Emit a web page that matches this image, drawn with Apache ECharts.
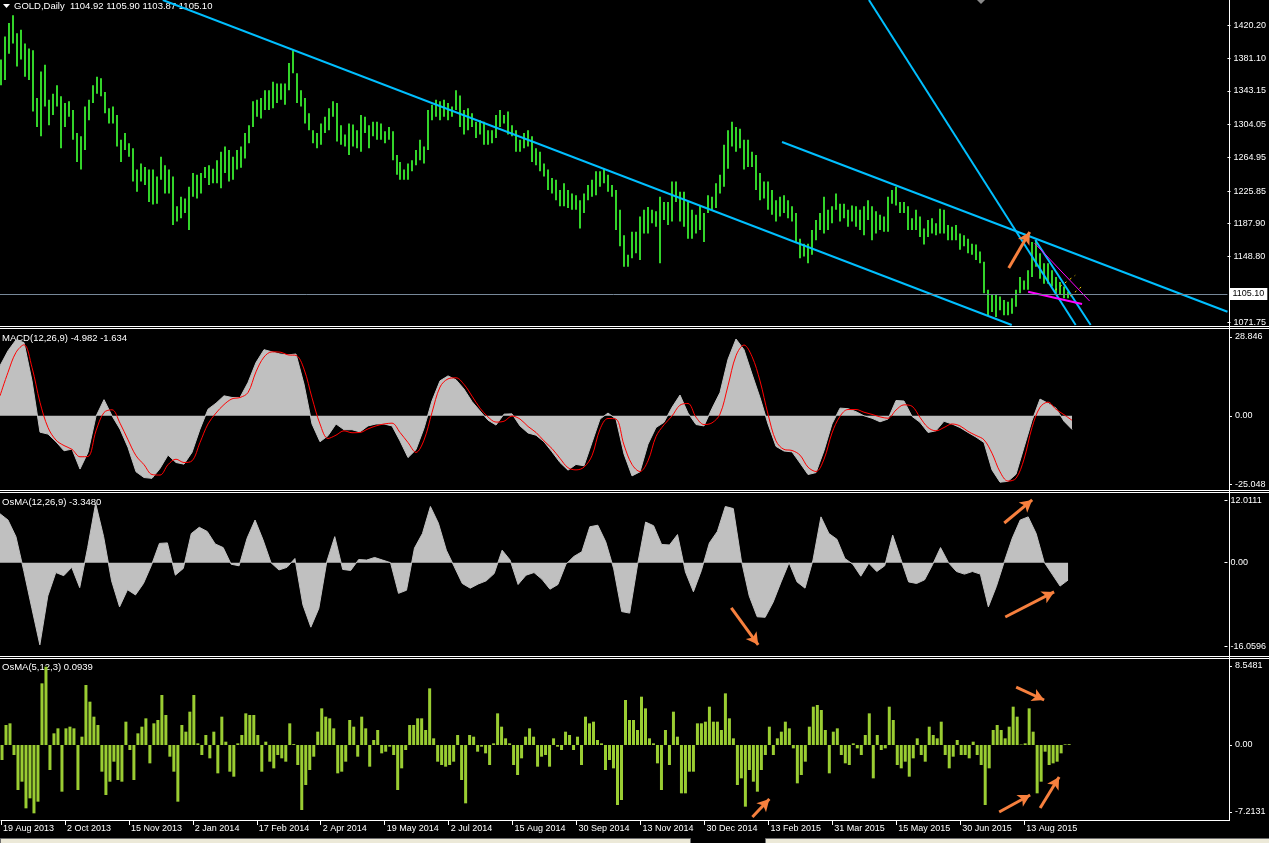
<!DOCTYPE html>
<html><head><meta charset="utf-8">
<script src="https://cdn.jsdelivr.net/npm/echarts@6/dist/echarts.min.js"></script>
<style>html,body{margin:0;padding:0;background:#000;overflow:hidden}#c{width:1269px;height:843px}</style>
</head><body><div id="c"></div>
<script>
// ---------------- DATA ----------------
const symbolName = 'GOLD,Daily';
const lastOHLC = ['1104.92', '1105.90', '1103.87', '1105.10'];
const bidPrice = 1105.10;
const macdTitleValues = ['-4.982', '-1.634'];
const osma1TitleValue = '-3.3480';
const osma2TitleValue = '0.0939';

const dateLabels = ['19 Aug 2013','2 Oct 2013','15 Nov 2013','2 Jan 2014','17 Feb 2014','2 Apr 2014','19 May 2014','2 Jul 2014','15 Aug 2014','30 Sep 2014','13 Nov 2014','30 Dec 2014','13 Feb 2015','31 Mar 2015','15 May 2015','30 Jun 2015','13 Aug 2015'];
const dateTickBars = [0,32,64,96,128,160,192,224,256,288,320,352,384,416,448,480,512];

const priceTickLabels = ['1420.20','1381.10','1343.15','1304.05','1264.95','1225.85','1187.90','1148.80','1071.75'];
const macdTickLabels = ['28.846','0.00','-25.048'];
const osma1TickLabels = ['12.0111','0.00','-16.0596'];
const osma2TickLabels = ['8.5481','0.00','-7.2131'];

// price: high / low of each pair of daily bars
const priceHigh = [1380,1407,1423,1432,1411,1415,1399,1393,1391,1335,
1366,1374,1333,1340,1350,1337,1329,1331,1321,1294,
1290,1325,1333,1350,1360,1358,1342,1323,1325,1315,
1286,1294,1282,1276,1251,1258,1254,1251,1251,1243,
1266,1256,1251,1243,1208,1219,1217,1231,1247,1245,
1247,1254,1256,1252,1262,1272,1278,1274,1266,1274,
1278,1294,1303,1331,1333,1335,1344,1344,1354,1352,
1352,1352,1376,1391,1364,1344,1335,1317,1297,1294,
1305,1313,1323,1331,1329,1303,1292,1305,1304,1297,
1315,1313,1303,1307,1307,1305,1296,1301,1296,1268,
1260,1251,1258,1262,1274,1286,1278,1321,1327,1333,
1331,1333,1329,1325,1344,1338,1321,1323,1317,1307,
1309,1307,1297,1297,1315,1321,1315,1319,1303,1297,
1286,1294,1297,1290,1276,1272,1258,1251,1241,1239,
1227,1235,1227,1223,1221,1215,1223,1233,1239,1249,
1249,1252,1245,1233,1227,1204,1174,1151,
1178,1178,1196,1204,1207,1204,1202,1219,1213,1213,
1237,1237,1225,1225,1213,1204,1198,1209,1200,1221,
1219,1235,1245,1280,1297,1307,1301,1299,1286,1286,
1272,1268,1247,1237,1237,1227,1215,1219,1221,1215,
1208,1200,1170,1164,1164,1180,1192,1200,1219,1204,
1208,1223,1211,1211,1204,1209,1208,1204,1208,1215,
1208,1202,1198,1196,1219,1227,1231,1213,1213,1208,
1194,1204,1196,1182,1192,1194,1188,
1205,1204,1186,1184,1186,1176,1174,1170,1164,1163,
1155,1143,1110,1104,1104,1102,1098,1096,1100,1110,
1125,1121,1133,1166,1168,1153,1141,1141,1133,1125,
1119,1114,1108];
const priceLow = [1350,1356,1387,1399,1372,1380,1360,1356,1319,1301,
1290,1325,1303,1315,1325,1276,1301,1313,1286,1260,
1251,1274,1309,1329,1340,1337,1317,1305,1305,1278,
1260,1274,1266,1237,1225,1237,1233,1213,1210,1211,
1239,1223,1223,1186,1190,1194,1200,1180,1219,1217,
1223,1241,1233,1235,1235,1229,1247,1237,1239,1251,
1253,1264,1282,1301,1313,1311,1321,1321,1323,1329,
1333,1327,1344,1364,1329,1325,1305,1297,1282,1276,
1280,1294,1297,1313,1284,1280,1278,1268,1278,1276,
1272,1294,1276,1290,1286,1286,1282,1286,1262,1245,
1239,1239,1239,1249,1256,1262,1258,1274,1309,1313,
1309,1313,1309,1313,1321,1301,1292,1297,1301,1288,
1292,1280,1280,1282,1288,1301,1305,1292,1290,1272,
1272,1276,1278,1260,1256,1249,1243,1227,1223,1215,
1208,1208,1206,1204,1204,1182,1200,1215,1219,1221,
1231,1235,1225,1219,1180,1161,1137,1137,
1147,1153,1145,1176,1176,1188,1184,1141,1192,1186,
1190,1213,1190,1184,1170,1170,1176,1180,1166,1200,
1204,1206,1223,1231,1252,1278,1272,1276,1251,1254,
1254,1227,1215,1217,1204,1198,1190,1196,1200,1194,
1190,1165,1147,1149,1141,1151,1168,1180,1176,1180,
1188,1204,1190,1194,1184,1190,1184,1180,1174,1192,
1168,1176,1180,1178,1178,1211,1209,1200,1200,1180,
1180,1180,1172,1163,1172,1176,1174,
1176,1176,1168,1168,1168,1157,1161,1153,1151,1145,
1141,1106,1080,1084,1078,1086,1080,1080,1082,1090,
1106,1110,1110,1125,1137,1123,1117,1117,1114,1106,
1104,1100,1100];

// MACD(12,26,9) main (histogram) and signal, every 4th bar
const macdMain = [18.3,23.8,27.8,26.8,12.8,-6.0,-6.7,-9.5,-12.8,-12.2,
-19.5,-13.4,-0.2,5.9,0.0,-4.9,-11.6,-20.5,-22.6,-22.9,
-19.3,-14.4,-17.1,-17.7,-13.4,-4.9,2.4,4.6,7.3,6.7,
6.7,12.2,19.5,24.2,23.4,22.6,22.3,22.6,11.6,-3.0,
-9.5,-7.3,-3.0,-5.1,-5.1,-5.9,-3.7,-3.0,-3.0,-3.7,
-9.2,-15.3,-12.4,-4.6,5.5,12.8,14.6,13.2,9.8,5.2,
1.8,-1.6,-3.4,0.6,0.7,-3.7,-6.3,-7.1,-9.5,-13.2,
-17.1,-19.9,-17.8,-18.3,-9.8,-1.2,1.0,-1.2,-14.0,-22.0,
-20.5,-10.4,-4.3,-2.4,3.1,7.6,1.0,-3.2,-3.7,2.7,
8.5,20.7,28.1,24.2,15.3,6.7,-3.0,-11.2,-12.9,-13.2,
-17.3,-21.5,-20.8,-12.8,-3.0,2.8,2.6,1.5,0.0,-0.9,
-2.2,-1.2,5.6,5.4,-0.2,-2.4,-6.1,-5.5,-2.0,-3.0,
-4.3,-6.1,-7.8,-9.8,-19.8,-24.3,-24.0,-21.4,-11.6,-1.8,
6.1,4.6,2.8,-2.0,-4.98];
const macdSignal = [7.3,15.9,23.2,26.0,17.7,4.9,-4.3,-8.9,-10.9,-12.3,
-15.0,-14.9,-5.5,1.2,2.2,-2.7,-8.8,-14.6,-17.9,-21.5,
-21.7,-17.9,-15.9,-17.1,-16.5,-9.8,-3.0,1.0,4.1,6.2,
6.7,8.5,16.1,21.5,23.4,23.3,22.3,22.1,17.1,6.6,
-3.0,-8.3,-7.1,-5.5,-6.2,-6.1,-4.8,-3.7,-3.0,-2.7,
-6.1,-9.8,-13.4,-8.9,1.2,10.5,13.5,13.9,11.5,7.2,
2.8,-0.4,-2.3,-2.0,-0.1,-1.2,-3.9,-6.1,-9.2,-12.0,
-15.6,-19.0,-19.8,-18.8,-14.6,-4.9,-1.0,-1.2,-10.7,-17.8,
-20.4,-16.5,-7.6,-3.3,-0.1,3.9,4.5,-0.5,-3.2,-2.6,
0.6,11.0,22.0,25.9,21.7,12.8,0.6,-9.2,-12.3,-12.7,
-14.4,-18.8,-20.4,-15.9,-6.3,-0.2,2.3,2.3,1.3,0.5,
-0.4,-0.9,2.1,4.0,3.5,-0.6,-4.3,-5.5,-4.3,-3.0,
-3.7,-5.7,-7.2,-8.8,-13.7,-20.5,-23.9,-22.9,-15.9,-4.3,
3.1,5.0,2.4,0.4,-1.63];
// OsMA(12,26,9), every 4th bar
const osma1 = [9.4,8.2,5.0,-1.7,-8.8,-15.8,-6.4,-1.9,-2.5,-0.9,
-4.8,2.9,11.4,5.0,-3.5,-8.5,-5.2,-6.2,-4.0,-0.5,
3.7,3.8,-2.4,-1.1,5.6,6.8,6.0,3.6,2.9,-0.3,
-0.6,4.7,8.2,4.4,0.0,-1.4,-0.9,0.8,-8.1,-12.4,
-8.8,0.2,5.0,-1.3,-1.5,0.6,0.5,1.0,0.5,0.0,
-5.9,-5.3,2.8,5.6,10.8,7.6,2.4,-0.8,-4.0,-4.9,
-4.1,-3.5,-2.1,2.4,0.5,-4.2,-2.4,-1.9,-3.2,-5.1,
-4.2,-0.3,1.2,2.1,6.9,7.2,4.0,-1.2,-9.4,-9.7,
-0.3,7.8,7.1,3.5,3.4,5.4,-1.8,-5.6,-1.5,3.8,
6.0,10.8,10.4,0.5,-6.4,-10.4,-10.5,-7.6,-3.7,0.0,
-3.7,-4.9,0.5,8.8,5.6,4.5,0.8,-0.3,-2.6,-0.1,
-1.7,-0.6,5.3,0.8,-3.7,-4.0,-3.3,-0.4,2.9,0.0,
-1.7,-2.2,-1.7,-2.2,-8.5,-4.6,0.2,4.7,8.2,8.8,
5.6,0.1,-2.2,-4.5,-3.35];
// OsMA(5,12,3), each pair of daily bars
const osma2 = [-1.62,2.16,2.34,-1.08,-4.86,-3.96,-6.84,-5.76,-7.38,-6.12,
6.66,8.46,-2.7,1.26,1.8,-5.04,1.8,1.98,1.8,-4.86,
0.9,6.48,4.68,3.06,2.16,-2.88,-5.4,-3.96,-1.8,-3.78,
-3.96,2.52,-0.54,-3.78,1.26,1.98,2.88,-1.98,2.34,2.7,
5.4,3.24,-1.26,-2.88,-6.12,2.16,1.44,3.6,5.4,0.18,
-1.08,1.08,-1.44,1.44,-3.06,3.06,0.36,-2.88,-3.42,0.18,
1.08,3.42,3.24,3.24,1.08,-2.88,0.36,-1.8,-2.52,-1.08,
-1.44,-1.8,2.34,0.1,-2.16,-7.02,-4.32,-2.7,-1.26,1.44,
3.96,3.06,2.88,1.8,-3.06,-2.88,-1.8,2.7,1.98,-1.26,
3.06,1.8,-2.34,0.54,1.62,-0.9,-0.72,-0.18,-1.08,-4.86,
-2.52,-0.54,2.16,2.16,2.88,2.88,1.62,6.12,0.72,-1.8,
-2.16,-2.34,-2.16,-1.8,1.08,-3.78,-6.3,1.08,0.9,-0.72,
-0.18,-0.9,-2.16,0.18,3.42,1.98,0.72,0.18,-2.16,-3.24,
-1.44,0.9,1.8,0.9,-2.34,-1.26,-1.08,-2.34,0.72,-0.18,
-0.54,1.44,1.08,-0.54,0.9,-2.16,3.06,2.34,2.52,0.54,
0.18,-2.7,-1.62,-2.52,-6.48,-5.94,4.86,2.7,2.7,1.62,
5.22,3.96,0.72,0.18,-1.98,-4.86,1.62,-2.16,3.6,0.9,
-5.22,-5.22,-2.88,-2.88,2.34,2.34,2.52,4.14,2.52,2.52,
1.62,5.58,2.88,0.72,-4.32,-3.6,-6.66,-2.7,-3.96,-5.04,
-2.7,-1.08,1.98,-1.08,0.72,1.44,2.52,1.8,-0.36,-4.14,
-3.24,-1.8,1.98,4.14,4.32,3.78,1.62,-3.06,1.44,1.8,
-1.08,-1.98,-2.16,0.18,-0.36,-1.08,1.08,3.42,-3.6,1.08,
-0.54,-0.36,4.14,2.7,-2.16,-2.52,-1.8,-3.42,-1.44,0.72,
-1.08,-1.8,1.98,1.08,0.72,2.52,-1.08,-2.52,-1.26,0.54,
-1.08,-1.08,-1.44,0.36,-1.08,-2.16,-6.48,-2.52,1.62,2.16,
1.62,0.72,1.98,4.14,3.06,0.05,0.18,3.96,1.44,-5.22,
-3.96,-0.72,-2.16,-1.98,-1.8,-0.9,0.07,0.09];

// drawn objects, in (bar, value) coordinates
const blueLines = [[[81.5,1449.9],[506.5,1068.7]], [[391.5,1283.3],[614.5,1084.3]], [[435,1449.9],[538.5,1068.7]], [[518.3,1168.4],[546,1068.7]]];
const magentaThick = [[514.7,1107.7],[541.7,1093.3]];
const magentaThin = [[518,1164.5],[545.5,1096.8]];
const yellowLines = [[[528.3,1109.7],[538.3,1127.0]], [[535.8,1102.7],[542.5,1115.6]]];
const priceArrows = [[[505,1135.5],[515.5,1177.8]]];
const osma1Arrows = [[[504,7.63],[518,12.06]], [[504.5,-10.44],[529,-5.63]], [[367,-8.7],[380.5,-15.8]]];
const osma2Arrows = [[[508,6.26],[522,4.86]], [[376,-7.78],[384.5,-5.83]], [[499.5,-7.24],[515,-5.4]], [[520,-6.8],[529.5,-3.46]]];

// ---------------- CHART ----------------
const FONT = "'Liberation Sans', Arial, sans-serif";
const ORANGE = '#F7803E';
const chart = echarts.init(document.getElementById('c'), null, {renderer: 'canvas', width: 1269, height: 843});

const grids = [
  {left: 0, top: 0, width: 1229, height: 325},
  {left: 0, top: 330, width: 1229, height: 159},
  {left: 0, top: 494, width: 1229, height: 161},
  {left: 0, top: 659, width: 1229, height: 161}
];
const X_MAX = 614.5;

function xAx(i) {
  const base = {type: 'value', gridIndex: i, min: 0, max: X_MAX, splitLine: {show: false}};
  if (i < 3) return Object.assign(base, {show: false});
  return Object.assign(base, {
    axisLine: {show: true, onZero: false, lineStyle: {color: '#fff', width: 1}},
    axisTick: {show: true, customValues: dateTickBars, length: 5, lineStyle: {color: '#fff'}},
    axisLabel: {show: true, customValues: dateTickBars, hideOverlap: false,
      formatter: v => { const k = dateTickBars.indexOf(v); return k >= 0 ? dateLabels[k] : ''; },
      color: '#fff', fontSize: 9, fontFamily: FONT, align: 'left', margin: 4, padding: [0, 0, 0, 2]}
  });
}
function yAx(i, min, max, labels) {
  const vals = labels.map(Number);
  return {
    type: 'value', gridIndex: i, position: 'right', min: min, max: max,
    axisLine: {show: false, onZero: false},
    splitLine: {show: false},
    axisTick: {show: true, customValues: vals, length: 3, lineStyle: {color: '#fff'}},
    axisLabel: {show: true, customValues: vals, hideOverlap: false,
      formatter: v => { const k = vals.indexOf(v); return k >= 0 ? labels[k] : ''; },
      color: '#fff', fontSize: 9, fontFamily: FONT, margin: 6}
  };
}

const priceData = priceHigh.map((h, k) => [2 * k + 0.5, h, priceLow[k]]);
const seg = (a) => [{coord: a[0]}, {coord: a[1]}];

const series = [];
series.push({
  type: 'custom', xAxisIndex: 0, yAxisIndex: 0, data: priceData, clip: true, silent: true,
  encode: {x: 0, y: [1, 2]},
  renderItem: function (params, api) {
    const x = api.value(0);
    const p1 = api.coord([x, api.value(1)]);
    const p2 = api.coord([x, api.value(2)]);
    return {type: 'rect', shape: {x: Math.round(p1[0]) - 1, y: p1[1], width: 2, height: Math.max(1, p2[1] - p1[1])},
      style: {fill: '#33D42A'}};
  }
});
blueLines.forEach((ln, idx) => {
  const s = {type: 'line', xAxisIndex: 0, yAxisIndex: 0, data: ln, symbol: 'none', silent: true, clip: true,
    lineStyle: {color: '#00BFFF', width: 2}, z: 3};
  if (idx === 0) {
    s.markLine = {silent: true, symbol: ['none', 'none'], animation: false,
      lineStyle: {color: '#778899', width: 1, type: 'solid'},
      label: {show: true, position: 'end', formatter: bidPrice.toFixed(2), color: '#000', backgroundColor: '#fff',
        padding: [2, 3, 1, 3], fontSize: 9, fontFamily: FONT, distance: 2},
      data: [{yAxis: bidPrice}]};
  }
  if (idx === 1) {
    s.markLine = {silent: true, symbol: ['none', 'arrow'], symbolSize: [10, 12], animation: false,
      label: {show: false}, lineStyle: {color: ORANGE, width: 3, type: 'solid'},
      data: priceArrows.map(seg)};
  }
  series.push(s);
});
series.push({type: 'line', xAxisIndex: 0, yAxisIndex: 0, data: magentaThick, symbol: 'none', silent: true,
  lineStyle: {color: '#FF00FF', width: 2}, z: 4});
series.push({type: 'line', xAxisIndex: 0, yAxisIndex: 0, data: magentaThin, symbol: 'none', silent: true,
  lineStyle: {color: '#FF00FF', width: 1}, z: 4});
yellowLines.forEach(ln => series.push({type: 'line', xAxisIndex: 0, yAxisIndex: 0, data: ln, symbol: 'none', silent: true,
  lineStyle: {color: '#FFD800', width: 1, type: [2, 4]}, z: 4}));

// MACD
series.push({type: 'line', xAxisIndex: 1, yAxisIndex: 1, data: macdMain.map((v, j) => [4 * j, v]),
  symbol: 'none', silent: true, lineStyle: {color: '#C0C0C0', width: 1},
  areaStyle: {color: '#C0C0C0', opacity: 1}});
series.push({type: 'line', xAxisIndex: 1, yAxisIndex: 1, data: macdSignal.map((v, j) => [4 * j, v]),
  symbol: 'none', silent: true, smooth: 0.35, lineStyle: {color: '#FF0000', width: 1}, z: 3});
// OsMA 12,26,9
series.push({type: 'line', xAxisIndex: 2, yAxisIndex: 2, data: osma1.map((v, j) => [4 * j, v]),
  symbol: 'none', silent: true, lineStyle: {color: '#C0C0C0', width: 1},
  areaStyle: {color: '#C0C0C0', opacity: 1},
  markLine: {silent: true, symbol: ['none', 'arrow'], symbolSize: [10, 12], animation: false,
    label: {show: false}, lineStyle: {color: ORANGE, width: 3, type: 'solid'}, data: osma1Arrows.map(seg)}});
// OsMA 5,12,3
series.push({type: 'bar', xAxisIndex: 3, yAxisIndex: 3, data: osma2.map((v, k) => [2 * k + 0.5, v]),
  barWidth: 3, silent: true, itemStyle: {color: '#9ACD32'},
  markLine: {silent: true, symbol: ['none', 'arrow'], symbolSize: [10, 12], animation: false,
    label: {show: false}, lineStyle: {color: ORANGE, width: 3, type: 'solid'}, data: osma2Arrows.map(seg)}});

const hline = (y) => ({type: 'rect', shape: {x: 0, y: y, width: 1269, height: 1}, style: {fill: '#fff'}, silent: true});
const txt = (x, y, t) => ({type: 'text', x: x, y: y, silent: true,
  style: {text: t, fill: '#fff', fontSize: 9.5, fontFamily: FONT, verticalAlign: 'middle'}});

chart.setOption({
  backgroundColor: '#000',
  animation: false,
  grid: grids,
  xAxis: [0, 1, 2, 3].map(xAx),
  yAxis: [
    yAx(0, 1068.7, 1449.9, priceTickLabels),
    yAx(1, -26.8, 31.4, macdTickLabels),
    yAx(2, -17.75, 13.2, osma1TickLabels),
    yAx(3, -8.1, 9.29, osma2TickLabels)
  ],
  series: series,
  graphic: [
    hline(326), hline(328), hline(490), hline(492), hline(656), hline(658),
    {type: 'rect', shape: {x: 1229, y: 0, width: 1, height: 821}, style: {fill: '#fff'}, silent: true},
    {type: 'polygon', shape: {points: [[977, 0], [985, 0], [981, 4]]}, style: {fill: '#8A8A8A'}, silent: true},
    {type: 'polygon', shape: {points: [[3, 4], [10, 4], [6.5, 8]]}, style: {fill: '#fff'}, silent: true},
    txt(14, 6, symbolName + '  ' + lastOHLC.join(' ')),
    txt(2, 338, 'MACD(12,26,9) ' + macdTitleValues.join(' ')),
    txt(2, 502, 'OsMA(12,26,9) ' + osma1TitleValue),
    txt(2, 667, 'OsMA(5,12,3) ' + osma2TitleValue),
    {type: 'rect', shape: {x: 0.5, y: 838.5, width: 690, height: 6}, style: {fill: '#ECE9D8', stroke: '#6E6E6E', lineWidth: 1}, silent: true},
    {type: 'rect', shape: {x: 765.5, y: 838.5, width: 504, height: 6}, style: {fill: '#ECE9D8', stroke: '#6E6E6E', lineWidth: 1}, silent: true}
  ]
});
</script></body></html>
